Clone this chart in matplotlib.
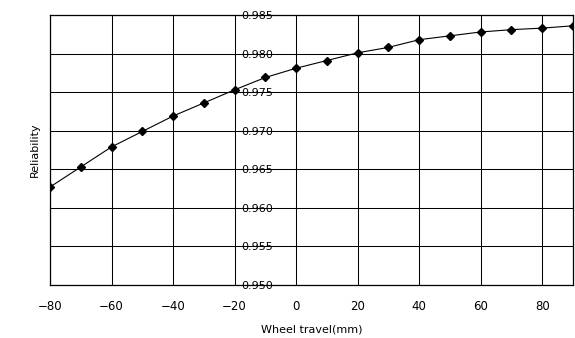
import matplotlib
matplotlib.use("Agg")
import matplotlib.pyplot as plt

wheel_travel = [-80, -70, -60, -50, -40, -30, -20, -10, 0, 10, 20, 30, 40, 50, 60, 70, 80, 90]
reliability = [0.9627, 0.9653, 0.9679, 0.9699, 0.9719, 0.9736, 0.9753, 0.9769, 0.9781,
               0.9791, 0.9801, 0.9808, 0.9818, 0.9823, 0.9828, 0.9831, 0.9833, 0.9836]
x_ticks = [-80, -60, -40, -20, 0, 20, 40, 60, 80]
y_ticks = [0.950, 0.955, 0.960, 0.965, 0.970, 0.975, 0.980, 0.985]
y_tick_labels = ["0.950", "0.955", "0.960", "0.965", "0.970", "0.975", "0.980", "0.985"]

plt.rcParams['font.family'] = ['DejaVu Sans']

fig = plt.figure(figsize=(5.75, 3.38), dpi=100)
ax = fig.add_axes([0.087, 0.157, 0.9095, 0.7986])

ax.plot(wheel_travel, reliability, color='black', lw=0.8, marker='D', markersize=4.5,
        markerfacecolor='black', markeredgecolor='black')

ax.set_xlim(-80, 90)
ax.set_ylim(0.950, 0.985)
ax.set_xticks(x_ticks)
ax.set_yticks(y_ticks)
ax.grid(True, color='black', lw=0.75)
ax.set_axisbelow(True)
for s in ax.spines.values():
    s.set_color('black')
    s.set_linewidth(0.9)
ax.tick_params(axis='x', length=0, labelsize=8.5, pad=11)
ax.tick_params(axis='y', length=0, labelleft=False)

# y-axis labels sitting on the x=-20 line
pos = (-20 - (-80)) / (90 - (-80))
sec = ax.secondary_yaxis(pos)
sec.set_alignment('right')
sec.set_yticks(y_ticks)
sec.set_yticklabels(y_tick_labels)
sec.tick_params(length=0, labelsize=8, pad=5)
sec.spines['right'].set_visible(False)
sec.spines['left'].set_visible(False)

ax.set_xlabel("Wheel travel(mm)", fontsize=8, labelpad=8)
ax.set_ylabel("Reliability", fontsize=8, labelpad=7)

fig.savefig("out.png", dpi=100)
